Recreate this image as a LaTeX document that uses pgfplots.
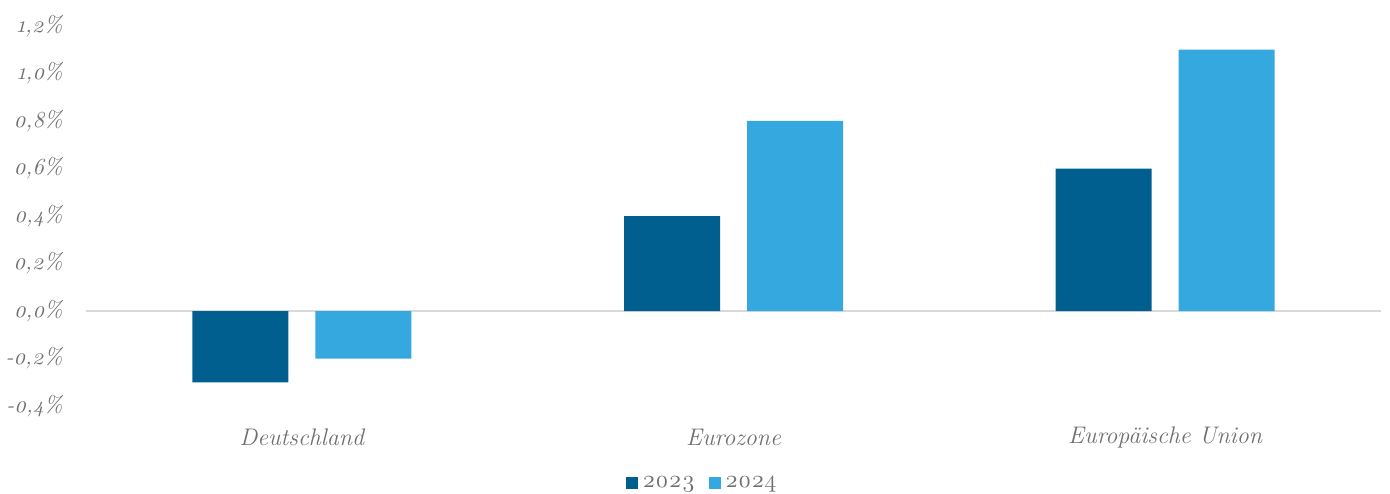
\documentclass[border=0pt]{standalone}
\usepackage{fontspec}
\setmainfont{Latin Modern Roman}[Numbers=OldStyle]
\usepackage{pgfplots}
\pgfplotsset{compat=1.18}
\definecolor{c23}{HTML}{005F8F}
\definecolor{c24}{HTML}{35A8E0}
\definecolor{txt}{HTML}{6F6F6F}
\definecolor{zl}{HTML}{D9D9D9}
\begin{document}
\begin{tikzpicture}
\useasboundingbox (0,0) rectangle (695pt,246.5pt);
\begin{axis}[
  at={(43pt,43.5pt)}, anchor=south west,
  scale only axis, width=647.5pt, height=190pt,
  xmin=-0.5, xmax=2.5, ymin=-0.4, ymax=1.2,
  axis lines=left,
  axis line style={draw=none},
  tick style={draw=none},
  clip=false,
  ytick={-0.4,-0.2,0,0.2,0.4,0.6,0.8,1.0,1.2},
  yticklabels={{-0,4\%},{-0,2\%},{0,0\%},{0,2\%},{0,4\%},{0,6\%},{0,8\%},{1,0\%},{1,2\%}},
  xtick={0,1,2},
  xticklabels={Deutschland,Eurozone,Europäische Union},
  major tick length=0pt,
  yticklabel style={anchor=east, inner sep=0pt, xshift=-11.5pt, font=\fontsize{11.5}{13}\selectfont\itshape, text=txt},
  xticklabel style={anchor=center, inner sep=0pt, yshift=-15.5pt, font=\fontsize{12}{14}\selectfont\itshape, text=txt},
  legend columns=2,
  legend style={at={(0.5,0)}, anchor=center, xshift=-15pt, yshift=-38.5pt, draw=none, fill=none, font=\fontsize{12}{14}\selectfont, text=txt, /tikz/every even column/.append style={column sep=5pt}},
  legend image code/.code={\fill[#1] (0pt,-3pt) rectangle (6pt,3pt);},
]
\draw[zl, line width=0.6pt] (axis cs:-0.5,0) -- (axis cs:2.5,0);
\addplot[ybar, bar width=48pt, bar shift=-30.75pt, fill=c23, draw=none] coordinates {(0,-0.3) (1,0.4) (2,0.6)};
\addlegendentry{2023}
\addplot[ybar, bar width=48pt, bar shift=30.75pt, fill=c24, draw=none] coordinates {(0,-0.2) (1,0.8) (2,1.1)};
\addlegendentry{2024}
\end{axis}
\end{tikzpicture}
\end{document}
